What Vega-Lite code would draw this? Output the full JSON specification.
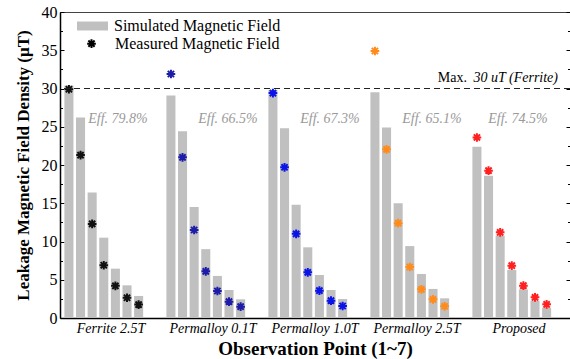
{
  "$schema": "https://vega.github.io/schema/vega-lite/v6.json",
  "width": 510,
  "height": 306,
  "autosize": "none",
  "padding": {"left": 60, "top": 12, "right": 0, "bottom": 41},
  "config": {
    "font": "Liberation Serif",
    "view": {"stroke": "#444", "strokeWidth": 1}
  },
  "datasets": {
    "obs": [
      {"group": "Ferrite 2.5T", "point": 1, "sim": 30.4, "meas": 29.9},
      {"group": "Ferrite 2.5T", "point": 2, "sim": 26.2, "meas": 21.3},
      {"group": "Ferrite 2.5T", "point": 3, "sim": 16.4, "meas": 12.3},
      {"group": "Ferrite 2.5T", "point": 4, "sim": 10.5, "meas": 6.9},
      {"group": "Ferrite 2.5T", "point": 5, "sim": 6.45, "meas": 4.2},
      {"group": "Ferrite 2.5T", "point": 6, "sim": 4.27, "meas": 2.65},
      {"group": "Ferrite 2.5T", "point": 7, "sim": 2.88, "meas": 1.75},
      {"group": "Permalloy 0.1T", "point": 1, "sim": 29.1, "meas": 31.9},
      {"group": "Permalloy 0.1T", "point": 2, "sim": 24.4, "meas": 21.0},
      {"group": "Permalloy 0.1T", "point": 3, "sim": 14.5, "meas": 11.5},
      {"group": "Permalloy 0.1T", "point": 4, "sim": 9.0, "meas": 6.1},
      {"group": "Permalloy 0.1T", "point": 5, "sim": 5.5, "meas": 3.53},
      {"group": "Permalloy 0.1T", "point": 6, "sim": 3.66, "meas": 2.14},
      {"group": "Permalloy 0.1T", "point": 7, "sim": 2.44, "meas": 1.48},
      {"group": "Permalloy 1.0T", "point": 1, "sim": 29.8, "meas": 29.4},
      {"group": "Permalloy 1.0T", "point": 2, "sim": 24.8, "meas": 19.7},
      {"group": "Permalloy 1.0T", "point": 3, "sim": 14.8, "meas": 11.0},
      {"group": "Permalloy 1.0T", "point": 4, "sim": 9.24, "meas": 5.97},
      {"group": "Permalloy 1.0T", "point": 5, "sim": 5.62, "meas": 3.57},
      {"group": "Permalloy 1.0T", "point": 6, "sim": 3.66, "meas": 2.27},
      {"group": "Permalloy 1.0T", "point": 7, "sim": 2.48, "meas": 1.57},
      {"group": "Permalloy 2.5T", "point": 1, "sim": 29.5, "meas": 34.9},
      {"group": "Permalloy 2.5T", "point": 2, "sim": 24.9, "meas": 22.05},
      {"group": "Permalloy 2.5T", "point": 3, "sim": 15.0, "meas": 12.4},
      {"group": "Permalloy 2.5T", "point": 4, "sim": 9.4, "meas": 6.67},
      {"group": "Permalloy 2.5T", "point": 5, "sim": 5.75, "meas": 3.75},
      {"group": "Permalloy 2.5T", "point": 6, "sim": 3.8, "meas": 2.44},
      {"group": "Permalloy 2.5T", "point": 7, "sim": 2.57, "meas": 1.53},
      {"group": "Proposed", "point": 1, "sim": 22.4, "meas": 23.6},
      {"group": "Proposed", "point": 2, "sim": 18.6, "meas": 19.26},
      {"group": "Proposed", "point": 3, "sim": 10.76, "meas": 11.2},
      {"group": "Proposed", "point": 4, "sim": 6.27, "meas": 6.84},
      {"group": "Proposed", "point": 5, "sim": 3.75, "meas": 4.23},
      {"group": "Proposed", "point": 6, "sim": 2.27, "meas": 2.7},
      {"group": "Proposed", "point": 7, "sim": 1.35, "meas": 1.79}
    ],
    "eff": [
      {"group": "Ferrite 2.5T", "label": "Eff. 79.8%"},
      {"group": "Permalloy 0.1T", "label": "Eff. 66.5%"},
      {"group": "Permalloy 1.0T", "label": "Eff. 67.3%"},
      {"group": "Permalloy 2.5T", "label": "Eff. 65.1%"},
      {"group": "Proposed", "label": "Eff. 74.5%"}
    ]
  },
  "layer": [
    {
      "data": {"name": "obs"},
      "mark": {"type": "bar", "stroke": null},
      "encoding": {
        "x": {
          "field": "group", "type": "nominal",
          "scale": {"domain": ["Ferrite 2.5T", "Permalloy 0.1T", "Permalloy 1.0T", "Permalloy 2.5T", "Proposed"], "paddingInner": 0, "paddingOuter": 0},
          "axis": {
            "title": "Observation Point (1~7)", "titleFontSize": 19, "titleFontWeight": "bold", "titleColor": "black", "titlePadding": 4,
            "labelFontSize": 14, "labelFontStyle": "italic", "labelColor": "black", "labelAngle": 0, "labelPadding": 3,
            "ticks": false, "domainColor": "black", "domainWidth": 1.5
          }
        },
        "xOffset": {
          "field": "point", "type": "ordinal",
          "scale": {"paddingInner": 0.22, "paddingOuter": 1.61, "align": 0.189}
        },
        "y": {
          "field": "sim", "type": "quantitative",
          "scale": {"domain": [0, 40], "nice": false},
          "axis": {
            "title": "Leakage Magnetic Field Density (μT)", "titleFontSize": 17, "titleFontWeight": "bold", "titleColor": "black", "titlePadding": 9,
            "values": [0, 2.5, 5, 7.5, 10, 12.5, 15, 17.5, 20, 22.5, 25, 27.5, 30, 32.5, 35, 37.5, 40],
            "labelExpr": "datum.value % 5 === 0 ? datum.label : ''",
            "labelFontSize": 16, "labelColor": "black", "labelPadding": 7,
            "tickSize": {"condition": {"test": "datum.value % 5 === 0", "value": -4}, "value": -2.5},
            "tickColor": "black", "domainColor": "black", "domainWidth": 1.5, "grid": false
          }
        },
        "fill": {
          "datum": "Simulated Magnetic Field", "type": "nominal",
          "scale": {"range": ["#c0c0c0"]},
          "legend": {
            "orient": "none", "legendX": 17, "legendY": -1.5, "title": null, "padding": 0,
            "symbolType": "M-1,-0.29H1V0.29H-1Z", "symbolSize": 961, "symbolStrokeWidth": 0,
            "labelFontSize": 16, "labelColor": "black", "labelOffset": 6, "labelLimit": 400
          }
        }
      }
    },
    {
      "data": {"name": "obs"},
      "mark": {"type": "point", "filled": false, "strokeWidth": 2, "size": 75, "opacity": 1},
      "encoding": {
        "x": {"field": "group", "type": "nominal"},
        "xOffset": {"field": "point", "type": "ordinal"},
        "y": {
          "field": "meas", "type": "quantitative",
          "axis": {
            "orient": "right", "labels": false, "title": null, "domain": false, "grid": false,
            "values": [0, 2.5, 5, 7.5, 10, 12.5, 15, 17.5, 20, 22.5, 25, 27.5, 30, 32.5, 35, 37.5, 40],
            "tickSize": {"condition": {"test": "datum.value % 5 === 0", "value": -4}, "value": -2.5},
            "tickColor": "black"
          }
        },
        "color": {
          "field": "group", "type": "nominal",
          "scale": {"domain": ["Ferrite 2.5T", "Permalloy 0.1T", "Permalloy 1.0T", "Permalloy 2.5T", "Proposed"], "range": ["#111111", "#1c1ca8", "#0a14e6", "#ff8c1a", "#ff2020"]},
          "legend": null
        },
        "shape": {
          "datum": "Measured Magnetic Field", "type": "nominal",
          "scale": {"range": ["M-1,0H1M0,-1V1M-0.72,-0.72L0.72,0.72M-0.72,0.72L0.72,-0.72"]},
          "legend": {
            "orient": "none", "legendX": 23.5, "legendY": 23.7, "title": null, "padding": 0,
            "symbolStrokeColor": "black", "symbolFillColor": "transparent", "symbolStrokeWidth": 2, "symbolSize": 75,
            "labelFontSize": 16, "labelColor": "black", "labelOffset": 15.5, "labelLimit": 400
          }
        }
      }
    },
    {
      "data": {"values": [{}]},
      "mark": {"type": "rule", "strokeDash": [6, 4], "strokeWidth": 1.2, "color": "#222"},
      "encoding": {"y": {"datum": 30, "type": "quantitative", "axis": null}}
    },
    {
      "data": {"values": [{"t": "Max."}]},
      "mark": {"type": "text", "align": "right", "baseline": "middle", "fontSize": 14, "color": "black", "dx": -52, "dy": -11},
      "encoding": {
        "x": {"datum": "Proposed", "type": "nominal"},
        "y": {"datum": 30, "type": "quantitative", "axis": null},
        "text": {"field": "t"}
      }
    },
    {
      "data": {"values": [{"t": "30 uT (Ferrite)"}]},
      "mark": {"type": "text", "align": "right", "baseline": "middle", "fontSize": 14, "fontStyle": "italic", "color": "black", "dx": 39, "dy": -11},
      "encoding": {
        "x": {"datum": "Proposed", "type": "nominal"},
        "y": {"datum": 30, "type": "quantitative", "axis": null},
        "text": {"field": "t"}
      }
    },
    {
      "data": {"name": "eff"},
      "transform": [{"filter": "datum.group === 'Ferrite 2.5T'"}],
      "mark": {"type": "text", "align": "center", "baseline": "middle", "fontSize": 14, "fontStyle": "italic", "color": "#9a9a9a", "dx": 7},
      "encoding": {
        "x": {"field": "group", "type": "nominal"},
        "y": {"datum": 26.0, "type": "quantitative", "axis": null},
        "text": {"field": "label"}
      }
    },
    {
      "data": {"name": "eff"},
      "transform": [{"filter": "datum.group !== 'Ferrite 2.5T' && datum.group !== 'Proposed'"}],
      "mark": {"type": "text", "align": "center", "baseline": "middle", "fontSize": 14, "fontStyle": "italic", "color": "#9a9a9a", "dx": 15},
      "encoding": {
        "x": {"field": "group", "type": "nominal"},
        "y": {"datum": 26.0, "type": "quantitative", "axis": null},
        "text": {"field": "label"}
      }
    },
    {
      "data": {"name": "eff"},
      "transform": [{"filter": "datum.group === 'Proposed'"}],
      "mark": {"type": "text", "align": "center", "baseline": "middle", "fontSize": 14, "fontStyle": "italic", "color": "#9a9a9a", "dx": -1},
      "encoding": {
        "x": {"field": "group", "type": "nominal"},
        "y": {"datum": 26.0, "type": "quantitative", "axis": null},
        "text": {"field": "label"}
      }
    }
  ],
  "resolve": {"axis": {"y": "independent"}}
}
